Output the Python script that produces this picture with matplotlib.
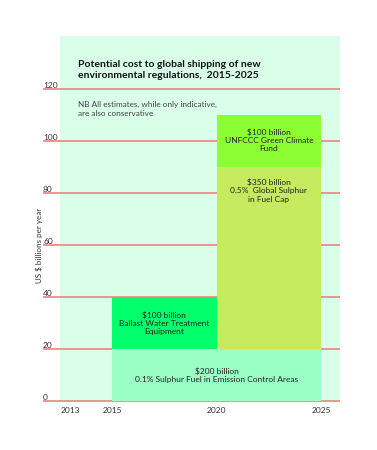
import matplotlib
matplotlib.use("Agg")
import matplotlib.pyplot as plt
from matplotlib.patches import Rectangle

plt.rcParams['font.family'] = ['Lato', 'DejaVu Sans']

# ---- data ----
bar_labels = [
    "$200 billion\n0.1% Sulphur Fuel in Emission Control Areas",
    "$100 billion\nBallast Water Treatment\nEquipment",
    "$350 billion\n0.5%  Global Sulphur\nin Fuel Cap",
    "$100 billion\nUNFCCC Green Climate\nFund",
]
bar_start_year = [2015, 2015, 2020, 2020]
bar_end_year = [2025, 2020, 2025, 2025]
bar_bottom = [0, 20, 20, 90]
bar_top = [20, 40, 90, 110]
bar_colors = ["#9AFFC4", "#00FF6A", "#C5EA5E", "#8CFF33"]

x_ticks = [2013, 2015, 2020, 2025]
y_ticks = [0, 20, 40, 60, 80, 100, 120]

title = "Potential cost to global shipping of new\nenvironmental regulations,  2015-2025"
note = "NB All estimates, while only indicative,\nare also conservative"
ylabel = "US $ billions per year"

# ---- figure ----
fig = plt.figure(figsize=(3.77, 4.5), dpi=100)
fig.patch.set_facecolor("white")
ax = fig.add_axes([43/377, 1 - 403.9/450, (340 - 43)/377, (403.9 - 36)/450])
ax.set_xlim(2011.7, 2025.9)
ax.set_ylim(-1, 140.5)
ax.set_facecolor("none")
for s in ax.spines.values():
    s.set_visible(False)

# background panel
ax.add_patch(Rectangle((2012.52, 0), 2025.9 - 2012.52, 140.5,
                       facecolor="#DAFFE9", edgecolor="none", zorder=0))

# gridlines
ax.hlines(y_ticks, 2011.7, 2025.9, colors="#F08080", linewidth=1.2, zorder=1)

# bars
for x0, x1, b, t, c in zip(bar_start_year, bar_end_year, bar_bottom,
                           bar_top, bar_colors):
    ax.bar(x0, t - b, width=x1 - x0, bottom=b, align="edge", color=c,
           edgecolor="none", zorder=3)

label_y = [10, 30, 81, 100.5]
for x0, x1, ly, lab in zip(bar_start_year, bar_end_year, label_y, bar_labels):
    ax.text((x0 + x1) / 2, ly, lab, ha="center", va="center", fontsize=6.0,
            color="#222222", linespacing=1.2, zorder=4)

# ticks
ax.set_yticks(y_ticks)
ax.set_yticklabels([str(v) for v in y_ticks])
ax.tick_params(axis="y", length=0, pad=0, labelsize=6.0, labelcolor="#333333")
plt.setp(ax.get_yticklabels(), ha="left", va="bottom")
ax.set_xticks(x_ticks)
ax.set_xticklabels([str(v) for v in x_ticks])
ax.tick_params(axis="x", length=0, pad=2, labelsize=6.0, labelcolor="#333333")

ax.set_ylabel(ylabel, fontsize=5.8, color="#333333")
ax.yaxis.set_label_coords(0.0, (60 + 1) / 141.5)

ax.text(2013.36, 127.4, title, ha="left", va="center", fontsize=7.5,
        fontweight="bold", color="#111111", linespacing=1.2)
ax.text(2013.36, 112.4, note, ha="left", va="center", fontsize=5.9,
        color="#444444", linespacing=1.25)

fig.savefig("out.png", dpi=100)
